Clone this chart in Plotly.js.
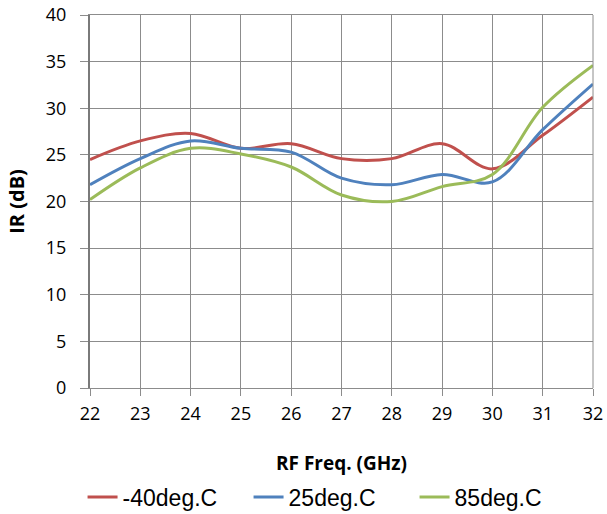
<!DOCTYPE html>
<html><head><meta charset="utf-8">
<script src="https://cdn.plot.ly/plotly-3.0.1.min.js"></script>
<style>body{margin:0;background:#fff}#c{width:607px;height:514px}</style>
</head><body><div id="c"></div>
<script>
const freq = [22, 23, 24, 25, 26, 27, 28, 29, 30, 31, 32];
const irM40 = [24.5, 26.5, 27.3, 25.7, 26.2, 24.6, 24.6, 26.2, 23.5, 27.1, 31.2];
const ir25 = [21.8, 24.6, 26.5, 25.7, 25.3, 22.5, 21.8, 22.9, 22.1, 27.7, 32.6];
const ir85 = [20.2, 23.6, 25.7, 25.1, 23.7, 20.7, 20.0, 21.6, 22.9, 30.1, 34.6];
const names = ['-40deg.C', '25deg.C', '85deg.C'];
const colors = ['#C0504D', '#4F81BD', '#9BBB59'];
const series = [irM40, ir25, ir85];
const xTicks = freq;
const yTicks = [0, 5, 10, 15, 20, 25, 30, 35, 40];

const traces = series.map((s, i) => ({
  x: freq, y: s, name: names[i], type: 'scatter', mode: 'lines',
  line: {color: colors[i], width: 3, shape: 'spline', smoothing: 1}
}));

const layout = {
  width: 607, height: 514,
  margin: {l: 90, r: 14, t: 15, b: 126, autoexpand: false},
  paper_bgcolor: '#fff', plot_bgcolor: '#fff',
  font: {family: 'Open Sans, sans-serif', color: '#000'},
  showlegend: true,
  legend: {orientation: 'h', xref: 'container', yref: 'container',
    x: 0.136, xanchor: 'left', y: 0.033, yanchor: 'middle',
    font: {family: 'Liberation Sans, Arial, sans-serif', size: 23, color: '#000'},
    entrywidth: 121, entrywidthmode: 'pixels', itemwidth: 30, traceorder: 'normal'},
  xaxis: {range: [22, 32], tickvals: xTicks, ticktext: xTicks.map(String),
    showgrid: true, gridcolor: '#8c8c8c', gridwidth: 1,
    showline: true, linecolor: '#8c8c8c', linewidth: 1, mirror: true,
    ticks: 'outside', ticklen: 7, tickcolor: '#8c8c8c', ticklabelstandoff: 2,
    tickfont: {size: 18, family: 'Open Sans, sans-serif'}, zeroline: false,
    automargin: false,
    title: {text: '<b>RF Freq. (GHz)</b>', font: {size: 19}, standoff: 42}},
  yaxis: {range: [0, 40], tickvals: yTicks, ticktext: yTicks.map(String),
    showgrid: true, gridcolor: '#8c8c8c', gridwidth: 1,
    showline: true, linecolor: '#7a7a7a', linewidth: 2, mirror: false,
    ticks: 'outside', ticklen: 8, tickcolor: '#8c8c8c', ticklabelstandoff: 10,
    tickfont: {size: 18, family: 'Open Sans, sans-serif'}, zeroline: false,
    automargin: false,
    title: {text: '<b>IR (dB)</b>', font: {size: 20}, standoff: 16}},
  shapes: [{type: 'line', xref: 'paper', yref: 'paper', x0: 1, x1: 1, y0: 0, y1: 1,
    line: {color: '#8c8c8c', width: 1}}]
};
Plotly.newPlot('c', traces, layout, {displayModeBar: false, staticPlot: true});
</script></body></html>
